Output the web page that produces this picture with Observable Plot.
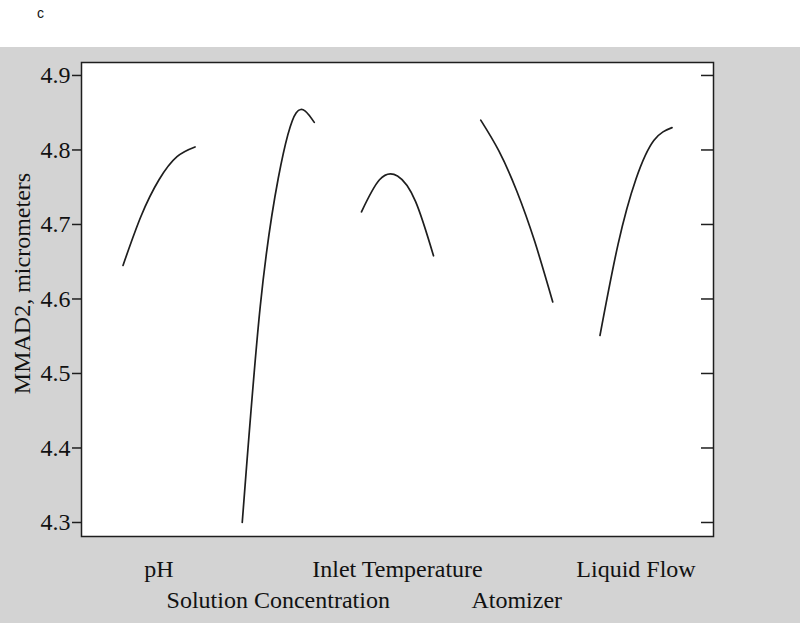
<!DOCTYPE html>
<html><head><meta charset="utf-8">
<script src="https://cdn.jsdelivr.net/npm/d3@7"></script>
<script src="https://cdn.jsdelivr.net/npm/@observablehq/plot@0.6"></script>
<style>
html,body{margin:0;padding:0;background:#fff;}
#top{height:47px;position:relative;font-family:"Liberation Sans",Arial,sans-serif;font-size:14px;color:#111;}
#top span{position:absolute;left:37px;top:5px;}
#chart svg{display:block;}
</style></head><body>
<div id="top"><span>c</span></div>
<div id="chart"></div>
<script>
// ---- data ----
const factors = ["pH", "Solution Concentration", "Inlet Temperature", "Atomizer", "Liquid Flow"];
const levels = [-1, -0.5, 0, 0.5, 1];
const pH = [4.645, 4.711, 4.760, 4.791, 4.804];
const solutionConcentration = [4.300, 4.590, 4.762, 4.850, 4.837];
const inletTemperature = [4.717, 4.760, 4.765, 4.731, 4.658];
const atomizer = [4.840, 4.799, 4.745, 4.677, 4.596];
const liquidFlow = [4.551, 4.673, 4.761, 4.813, 4.830];
const yTicks = [4.3, 4.4, 4.5, 4.6, 4.7, 4.8, 4.9];
const yLabel = "MMAD2, micrometers";

const series = [pH, solutionConcentration, inletTemperature, atomizer, liquidFlow];
const halfWidth = 0.302;
const rows = [];
series.forEach((vals, i) => levels.forEach((l, j) =>
  rows.push({factor: factors[i], x: i + l * halfWidth, value: vals[j]})));
const labels = factors.map((f, i) => ({name: f, i}));

const ink = "#1e1e1e";
const plot = Plot.plot({
  width: 800, height: 576,
  marginTop: 15, marginBottom: 87, marginLeft: 81, marginRight: 87,
  style: {background: "#d3d3d3", fontFamily: "'Liberation Serif', 'Times New Roman', serif", fontSize: "24px", color: "#111"},
  x: {domain: [-0.65, 4.65], axis: null},
  y: {domain: [4.2812, 4.9174], axis: null},
  marks: [
    Plot.frame({fill: "white"}),
    Plot.axisY(yTicks, {anchor: "left", tickSize: 9, tickPadding: 2, tickFormat: d => d.toFixed(1), label: null, stroke: ink, strokeWidth: 1.5, fontSize: 24, fill: "#111"}),
    Plot.axisY(yTicks, {anchor: "right", tickSize: -13, fill: "none", label: null, stroke: ink, strokeWidth: 1.5}),
    Plot.line(rows, {x: "x", y: "value", z: "factor", curve: "natural", stroke: ink, strokeWidth: 1.7}),
    Plot.text(labels.filter(d => d.i % 2 === 0), {x: "i", text: "name", frameAnchor: "bottom", dy: 33, lineAnchor: "middle", fontSize: 24, fill: "#111"}),
    Plot.text(labels.filter(d => d.i % 2 === 1), {x: "i", text: "name", frameAnchor: "bottom", dy: 64, lineAnchor: "middle", fontSize: 24, fill: "#111"}),
    Plot.text([yLabel], {text: d => d, frameAnchor: "left", rotate: -90, dx: -69, dy: -16, lineAnchor: "top", textAnchor: "middle", fontSize: 24, fill: "#111"}),
    Plot.frame({stroke: ink, strokeWidth: 1.5})
  ]
});
document.getElementById("chart").appendChild(plot);
</script>
</body></html>
